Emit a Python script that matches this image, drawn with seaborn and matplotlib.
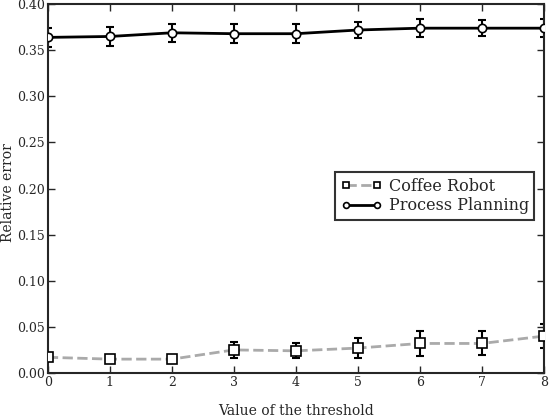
import numpy as np
import pandas as pd
import matplotlib
matplotlib.use("Agg")
import matplotlib.pyplot as plt
import seaborn as sns

# Data
thresholds = [0, 1, 2, 3, 4, 5, 6, 7, 8]
coffee_mean = [0.017, 0.015, 0.015, 0.025, 0.024, 0.027, 0.032, 0.032, 0.040]
coffee_err = [0.003, 0.003, 0.002, 0.009, 0.008, 0.011, 0.014, 0.013, 0.013]
process_mean = [0.364, 0.365, 0.369, 0.368, 0.368, 0.372, 0.374, 0.374, 0.374]
process_err = [0.010, 0.010, 0.010, 0.010, 0.010, 0.009, 0.010, 0.009, 0.010]

sns.set_style("ticks")
plt.rcParams["font.family"] = ["DejaVu Serif"]
plt.rcParams["xtick.direction"] = "in"
plt.rcParams["ytick.direction"] = "in"

fig = plt.figure(figsize=(5.5, 4.2), dpi=100)
ax = fig.add_axes([0.087, 0.112, 0.902, 0.878])

df = pd.DataFrame({"x": thresholds, "coffee": coffee_mean, "process": process_mean})

# error bars
ax.errorbar(thresholds, coffee_mean, yerr=coffee_err, fmt="none", ecolor="black",
            elinewidth=1.5, capsize=3, capthick=1.5, zorder=2)
ax.errorbar(thresholds, process_mean, yerr=process_err, fmt="none", ecolor="black",
            elinewidth=1.5, capsize=3, capthick=1.5, zorder=2)

sns.lineplot(data=df, x="x", y="coffee", ax=ax, color="#aaaaaa", linestyle="--",
             linewidth=2, marker="s", markersize=7, markerfacecolor="white",
             markeredgecolor="black", markeredgewidth=1.2, label="Coffee Robot", zorder=3)
sns.lineplot(data=df, x="x", y="process", ax=ax, color="black", linestyle="-",
             linewidth=2, marker="o", markersize=6, markerfacecolor="white",
             markeredgecolor="black", markeredgewidth=1.2, label="Process Planning", zorder=3)

ax.set_xlim(0, 8)
ax.set_ylim(0, 0.40)
ax.set_xticks(range(0, 9))
ax.set_yticks(np.arange(0, 0.41, 0.05))
ax.set_yticklabels([f"{v:.2f}" for v in np.arange(0, 0.41, 0.05)])
ax.tick_params(axis="both", labelsize=9, top=True, right=True, length=5, width=1, pad=2)
for s in ax.spines.values():
    s.set_linewidth(1.5)

ax.set_xlabel("Value of the threshold", fontsize=10)
ax.set_ylabel("Relative error", fontsize=10)
ax.xaxis.set_label_coords(0.5, -0.085)
ax.yaxis.set_label_coords(-0.066, 0.49)

leg = ax.legend(loc="center right", bbox_to_anchor=(0.997, 0.48), fontsize=11.5,
                numpoints=2, frameon=True, fancybox=False, handlelength=2.6,
                borderpad=0.35, labelspacing=0.15, handletextpad=0.4, markerscale=0.7)
leg.get_frame().set_edgecolor("black")
leg.get_frame().set_linewidth(1.5)

fig.savefig("out.png", dpi=100)
